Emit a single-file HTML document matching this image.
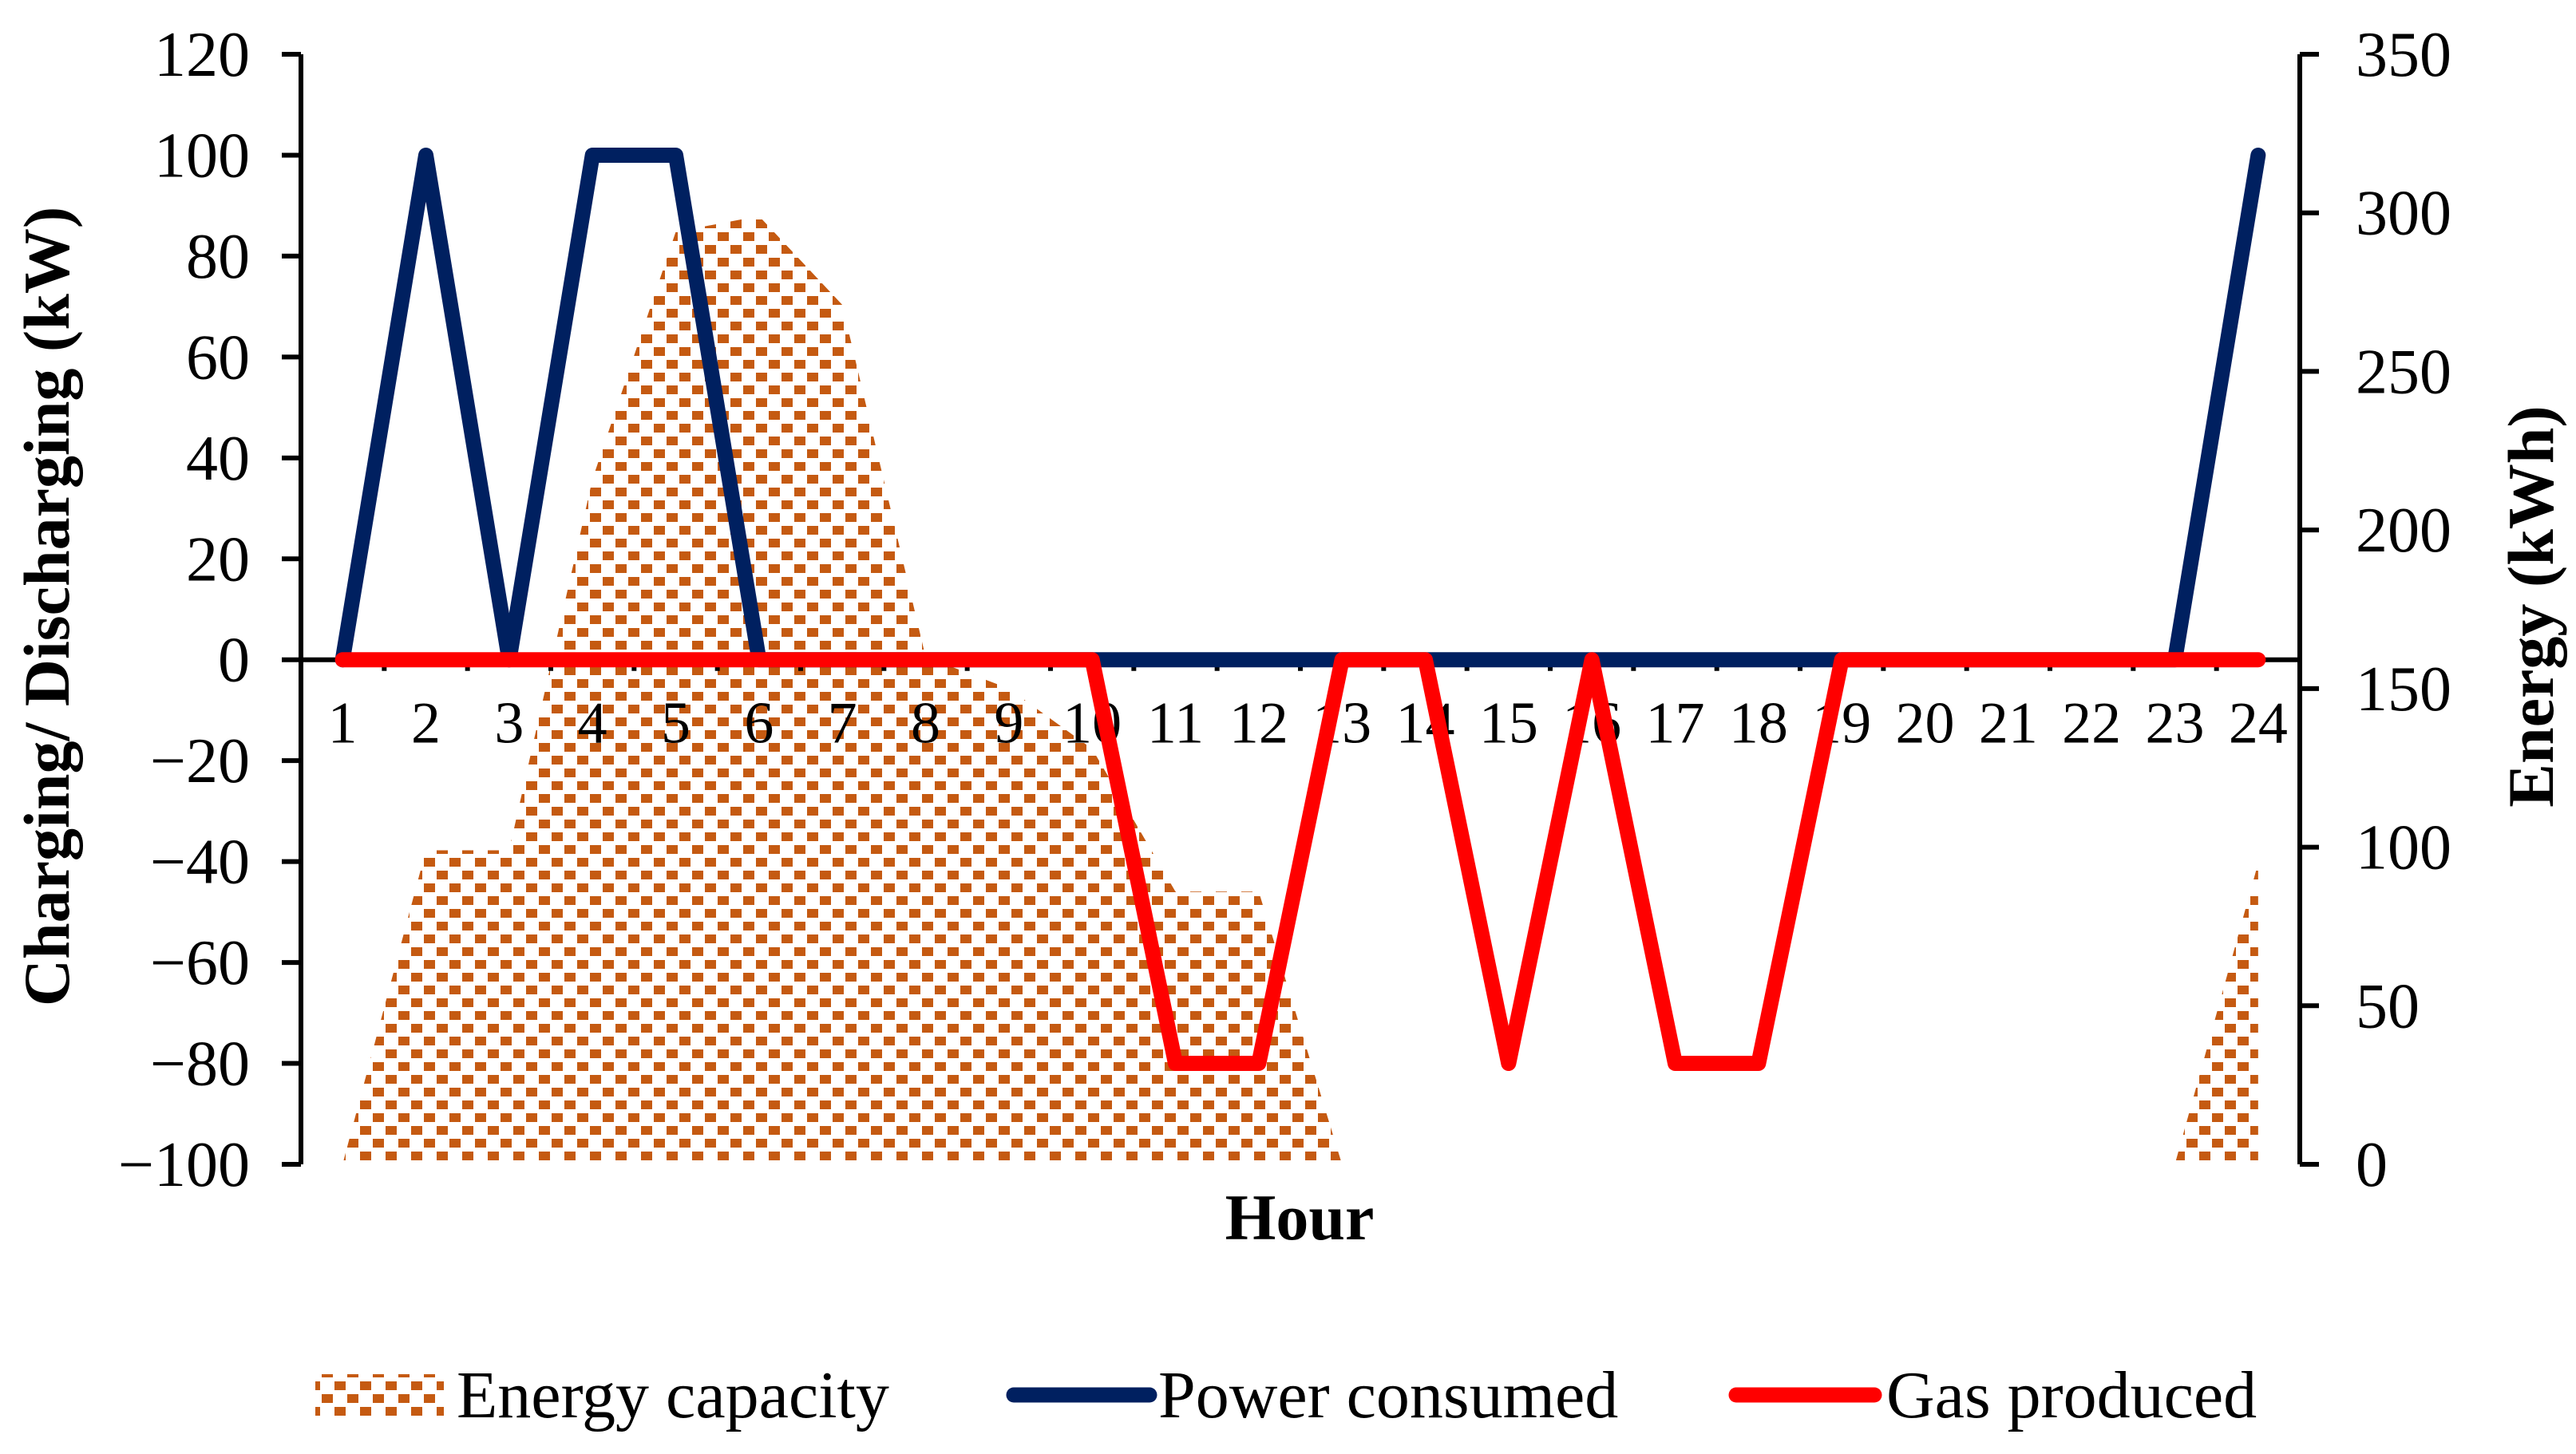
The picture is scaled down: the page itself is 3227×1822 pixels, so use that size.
<!DOCTYPE html>
<html><head><meta charset="utf-8"><style>
html,body{margin:0;padding:0;background:#fff;}
svg{display:block;}
text{font-family:"Liberation Serif",serif;fill:#000;}
</style></head><body>
<svg id="chart" width="3227" height="1822" viewBox="0 0 3227 1822" xmlns="http://www.w3.org/2000/svg">
<defs>
<pattern id="dots" patternUnits="userSpaceOnUse" width="32" height="32">
<rect x="0" y="0" width="32" height="32" fill="#fff"/>
<rect x="3" y="3" width="14" height="11" fill="#c55a11"/>
<rect x="19" y="19" width="14" height="11" fill="#c55a11"/>
<rect x="-13" y="19" width="14" height="11" fill="#c55a11"/>
</pattern>
</defs>
<g id="plot"></g>
<text transform="translate(86,760) rotate(-90)" text-anchor="middle" font-size="82" font-weight="bold">Charging/ Discharging (kW)</text>
<text transform="translate(3198,760) rotate(-90)" text-anchor="middle" font-size="82" font-weight="bold">Energy (kWh)</text>
<text x="1628" y="1553" text-anchor="middle" font-size="82" font-weight="bold">Hour</text>
<g>
<g>
<rect x="395" y="1722" width="161" height="52" fill="url(#dots)"/>
<text x="572" y="1776" font-size="84">Energy capacity</text>
</g>
<g>
<line x1="1270" y1="1748" x2="1440" y2="1748" stroke="#002060" stroke-width="19" stroke-linecap="round"/>
<text x="1451" y="1776" font-size="84">Power consumed</text>
</g>
<g>
<line x1="2175" y1="1748" x2="2348" y2="1748" stroke="#ff0000" stroke-width="19" stroke-linecap="round"/>
<text x="2363" y="1776" font-size="84">Gas produced</text>
</g>
</g>
</svg>
<script>
const hours = [1,2,3,4,5,6,7,8,9,10,11,12,13,14,15,16,17,18,19,20,21,22,23,24];
const energyCapacity = [0,99,99,216,294,299,271,160,150,131,86,86,0,0,0,0,0,0,0,0,0,0,0,95];
const powerConsumed = [0,100,0,100,100,0,0,0,0,0,0,0,0,0,0,0,0,0,0,0,0,0,0,100];
const gasProduced = [0,0,0,0,0,0,0,0,0,0,-80,-80,0,0,-80,0,-80,-80,0,0,0,0,0,0];
const leftTicks = [120,100,80,60,40,20,0,-20,-40,-60,-80,-100];
const rightTicks = [350,300,250,200,150,100,50,0];

const X0=377, X1=2881, YT=68, YB=1459;
const NS='http://www.w3.org/2000/svg';
const step=(X1-X0)/hours.length;
function xPos(i){return X0+step*(i+0.5);}
function yL(v){return YB-(v+100)/220*(YB-YT);}
function yR(v){return YB-v/350*(YB-YT);}
const g=document.getElementById('plot');
function mk(tag,attrs,parent){const e=document.createElementNS(NS,tag);for(const k in attrs)e.setAttribute(k,attrs[k]);(parent||g).appendChild(e);return e;}

let d='M'+xPos(0)+','+yR(0);
energyCapacity.forEach((v,i)=>{d+=' L'+xPos(i)+','+yR(v);});
d+=' L'+xPos(hours.length-1)+','+yR(0)+' Z';
const area=mk('path',{d:d,fill:'url(#dots)'});



const ax=mk('line',{x1:X0,y1:YT,x2:X0,y2:YB,stroke:'#000','stroke-width':6});


const ax2=mk('line',{x1:X1,y1:YT,x2:X1,y2:YB,stroke:'#000','stroke-width':6});


const xa=mk('line',{x1:X0,y1:yL(0),x2:X1,y2:yL(0),stroke:'#000','stroke-width':6});



leftTicks.forEach(v=>{
  const y=yL(v);
  mk('line',{x1:X0-24,y1:y,x2:X0,y2:y,stroke:'#000','stroke-width':6});
  const t=mk('text',{x:X0-64,y:y+27,'text-anchor':'end','font-size':80});
  t.textContent=(v<0?'\u2212'+(-v):String(v));
  
  
});
rightTicks.forEach(v=>{
  const y=yR(v);
  mk('line',{x1:X1,y1:y,x2:X1+24,y2:y,stroke:'#000','stroke-width':6});
  const t=mk('text',{x:X1+70,y:y+27,'text-anchor':'start','font-size':80});
  t.textContent=String(v);
  
  
});
hours.forEach((h,i)=>{
  const xb=X0+step*(i+1);
  if(i<hours.length-1) mk('line',{x1:xb,y1:yL(0),x2:xb,y2:yL(0)+14,stroke:'#000','stroke-width':6});
  const t=mk('text',{x:xPos(i),y:yL(0)+104,'text-anchor':'middle','font-size':74});
  t.textContent=String(h);
  
  
});

function line(vals,color,name){
  const pts=vals.map((v,i)=>xPos(i)+','+yL(v)).join(' ');
  const p=mk('polyline',{points:pts,fill:'none',stroke:color,'stroke-width':19,'stroke-linejoin':'round','stroke-linecap':'round'});
  
  
}
line(powerConsumed,'#002060','power-consumed-line');
line(gasProduced,'#ff0000','gas-produced-line');
</script>
</body></html>
